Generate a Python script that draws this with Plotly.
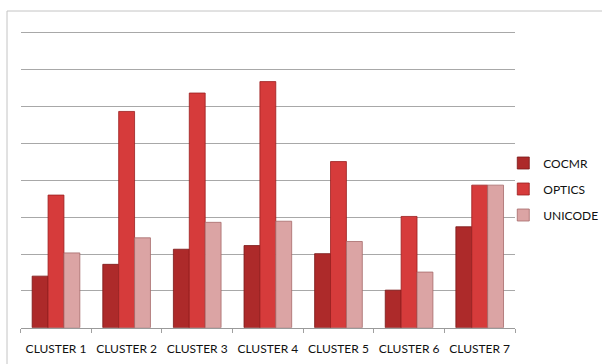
import plotly.graph_objects as go

clusters = ["CLUSTER 1", "CLUSTER 2", "CLUSTER 3", "CLUSTER 4",
            "CLUSTER 5", "CLUSTER 6", "CLUSTER 7"]
cocmr = [1.40, 1.72, 2.13, 2.23, 2.01, 1.02, 2.74]
optics = [3.60, 5.87, 6.37, 6.68, 4.51, 3.02, 3.87]
unicode_vals = [2.03, 2.44, 2.86, 2.89, 2.34, 1.51, 3.87]

series = [
    ("COCMR", cocmr, "#ad2a2a", "#7a1616"),
    ("OPTICS", optics, "#d63b3b", "#9a2020"),
    ("UNICODE", unicode_vals, "#dba4a4", "#a66a6a"),
]

fig = go.Figure()
for name, vals, fill, edge in series:
    fig.add_trace(go.Bar(
        x=clusters, y=vals, name=name, legendgroup=name,
        marker=dict(color=fill, line=dict(color=edge, width=0.8)),
    ))

H = 364.0
base_px, unit_px = 327.7, 36.84
ymax = 8.05
top_px = base_px - ymax * unit_px

fig.update_layout(
    width=602, height=364,
    margin=dict(l=0, r=0, t=0, b=0, autoexpand=False),
    paper_bgcolor="white", plot_bgcolor="white",
    barmode="group", bargap=0.325, bargroupgap=0,
    font=dict(family="Lato, Noto Sans, sans-serif", size=12, color="#111111"),
    xaxis=dict(
        domain=[20.7 / 602, 515 / 602],
        tickson="boundaries", ticks="outside", ticklen=4,
        tickcolor="#a0a0a0", showline=True, linecolor="#9a9a9a",
        linewidth=1, showgrid=False, tickfont=dict(size=12),
        tickangle=0, automargin=False, ticklabelstandoff=10,
    ),
    yaxis=dict(
        domain=[(H - base_px) / H, (H - top_px) / H],
        range=[0, ymax], dtick=1, showticklabels=False,
        showgrid=True, gridcolor="#a8a8a8", gridwidth=1,
        zeroline=False, showline=False, automargin=False,
    ),
    legend=dict(
        x=0.836, y=(H - 189) / H, xanchor="left", yanchor="middle",
        traceorder="grouped", tracegroupgap=7,
        font=dict(size=12), itemwidth=30,
        bgcolor="rgba(0,0,0,0)",
    ),
    shapes=[dict(
        type="rect", xref="paper", yref="paper",
        x0=7 / 602, x1=1.01, y0=-0.02, y1=(H - 11) / H,
        line=dict(color="#c4c4c4", width=1), layer="below",
    )],
)

fig.write_html("out.html")
